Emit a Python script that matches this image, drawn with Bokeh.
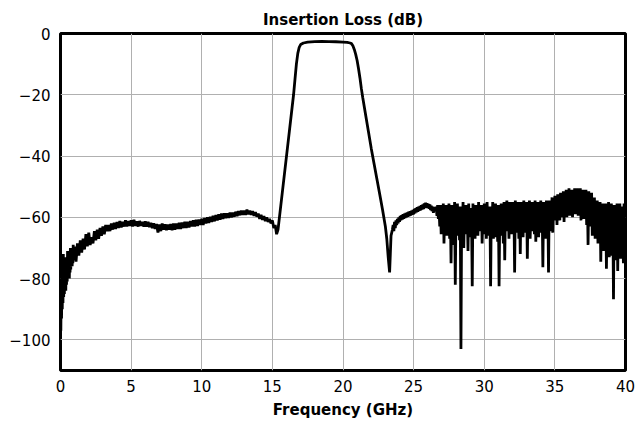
import numpy as np
from bokeh.plotting import figure
from bokeh.models import Range1d, ColumnDataSource, FixedTicker
from bokeh.embed import file_html
from bokeh.resources import INLINE

# ---- data ----
title_text = "Insertion Loss (dB)"
x_label = "Frequency (GHz)"
x_ticks = [0, 5, 10, 15, 20, 25, 30, 35, 40]
y_ticks = [0, -20, -40, -60, -80, -100]
y_tick_labels = ["0", "\u221220", "\u221240", "\u221260", "\u221280", "\u2212100"]

# 0 - 0.975 GHz, 0.025 GHz step
il_low = [
    -75, -97, -80, -93, -73, -90, -78, -88, -72, -86,
    -76, -85, -74, -83, -75, -84, -73, -82, -76, -81,
    -71, -80, -74, -79, -72, -80, -73, -78, -70, -77,
    -72, -76, -70, -76, -71, -75, -69, -74, -70, -73,
]
# 1.0 - 15.3 GHz, 0.1 GHz step
il_mid = [
    -69.5, -74.5, -68.5, -72.5, -67.5, -71.5, -67, -70.5, -65.5, -69.5,
    -65, -69, -66.5, -68.5, -64.5, -67.5, -64, -67, -63.5, -66,
    -63, -65.5, -62.5, -64.5, -62.5, -64.5, -62, -64, -61.8, -63.8,
    -61.5, -63.5, -61.2, -63.3, -61.5, -63, -61, -63, -61.2, -62.8,
    -61, -63, -60.8, -62.8, -61.3, -63, -61.2, -62.8, -61.5, -63,
    -61.3, -63, -61.5, -63.2, -61.8, -63.5, -62, -63.8, -62.2, -65,
    -62.3, -64.5, -62, -64, -62.3, -64.2, -62.4, -64, -62.2, -64.2,
    -62, -64, -62, -63.8, -61.8, -63.8, -61.7, -63.5, -61.5, -63.5,
    -61.5, -63.3, -61.2, -63, -61, -63, -60.8, -62.8, -60.7, -62.5,
    -60.5, -62.5, -60.2, -62, -60, -61.8, -59.8, -61.5, -59.5, -61.3,
    -59.3, -61, -59, -60.8, -58.8, -60.5, -58.7, -60.3, -58.7, -60.2,
    -58.5, -60, -58.5, -59.8, -58.2, -59.6, -58, -59.3, -57.8, -59.2,
    -57.8, -59.2, -57.5, -59, -57.8, -59.2, -58, -59.5, -58.3, -59.8,
    -58.8, -60.5, -59.2, -60.8, -59.6, -61.2, -60, -61.5, -60.5, -62,
    -61, -63.5, -62.5, -65.5,
]
# passband and skirts
f_pass = [15.4, 15.5, 15.6, 15.8, 16.0, 16.2, 16.4, 16.5, 16.6, 16.7,
          16.8, 16.9, 17.0, 17.2, 17.5, 18.0, 18.5, 19.0, 19.5, 20.0,
          20.3, 20.5, 20.6, 20.7, 20.8, 20.9, 21.0, 21.1, 21.2, 21.3,
          21.4, 21.6, 21.8, 22.0, 22.2, 22.4, 22.6, 22.8, 23.0, 23.1,
          23.2, 23.3, 23.35, 23.4, 23.5]
il_pass = [-64, -60, -56, -48, -40, -32, -24, -20, -15, -10,
           -6.5, -4.5, -3.6, -3.1, -2.8, -2.65, -2.6, -2.65, -2.7, -2.8,
           -2.9, -3.1, -3.3, -4.0, -5.2, -6.8, -8.8, -11.5, -14.5, -18,
           -21, -26.5, -32, -37.5, -42.5, -47.5, -52.5, -57.5, -63, -67,
           -73, -78, -72, -66, -64]
# 23.55 - 26.45 GHz, 0.05 GHz step
il_rec = [
    -62.5, -64.5, -61.5, -63.5, -61, -62.5, -60.5, -62, -60, -61.5,
    -59.5, -61, -59.3, -60.7, -59, -60.5, -58.8, -60.2, -58.6, -60,
    -58.4, -59.8, -58.2, -59.6, -58, -59.4, -57.8, -59.2, -57.6, -59,
    -57.3, -58.7, -57, -58.4, -56.7, -58.2, -56.5, -57.9, -56.3, -57.7,
    -56, -57.5, -55.8, -57.3, -55.5, -57, -55.2, -56.8, -55.4, -57,
    -55.6, -57.2, -55.8, -57.6, -56.2, -58, -56.5, -58.5, -57,
]
# 26.5 - 40 GHz, 0.05 GHz step
il_high = [
    -57, -58, -56.5, -59.5, -56, -60.5, -57.5, -63, -56, -65.5,
    -57.5, -63.5, -55.5, -68.5, -58, -62, -56, -66, -59, -64.5,
    -55.5, -67, -58.5, -75, -56, -63, -57, -69, -55, -82,
    -57.5, -66, -55.5, -62.5, -58, -67.5, -56.5, -103, -59, -64,
    -55, -70, -57.5, -65.5, -56, -63, -58.5, -71, -55.5, -65,
    -57, -66.5, -59.5, -82.5, -55.5, -63.5, -57, -67, -56, -62.5,
    -58, -66, -55, -63, -57.5, -64.5, -56, -68.5, -59, -65.5,
    -55.5, -63.5, -57, -67, -55, -62, -58, -66, -56.5, -82.5,
    -57.5, -64, -55, -67, -58.5, -63, -55.5, -66.5, -57, -68,
    -56, -82.5, -58, -63.5, -55.5, -66, -57.5, -68.5, -55, -74,
    -57, -64.5, -54.5, -62.5, -56.5, -67, -55, -63, -58, -65.5,
    -55, -63.5, -57, -78, -54.5, -65, -56.5, -62.5, -55, -67,
    -57.5, -72, -55, -63.5, -56.5, -66.5, -54.5, -62, -57, -65,
    -55, -73.5, -56.5, -63, -54.5, -67, -57.5, -64.5, -55, -62.5,
    -56.5, -65.5, -54.5, -68, -57, -63, -55, -66.5, -56, -63.5,
    -54.5, -65, -57, -76.3, -55, -63, -56.5, -67, -54.5, -62,
    -56, -78, -54.5, -64.5, -55.5, -62, -53.5, -65, -55, -61,
    -53, -60.5, -54.5, -62.5, -52.5, -59.5, -54, -61, -52, -60,
    -53.5, -59, -51.5, -61.5, -53, -58.5, -51, -60, -52.5, -58.5,
    -50.5, -59.5, -52.5, -57.5, -51, -60, -52, -58, -50.5, -59,
    -52, -57.5, -50.5, -59.5, -51.5, -58, -50.5, -61, -52, -58.5,
    -51, -60.5, -52.5, -59, -51, -62.5, -53, -69, -51.5, -61.5,
    -53.5, -63, -52, -66, -54.5, -62.5, -53.5, -67, -55.5, -64,
    -54.5, -68.5, -56.5, -65, -55, -74.5, -57, -67.5, -55.5, -71,
    -57, -69, -55.5, -76.8, -56.5, -70.5, -55, -73, -57.5, -68,
    -55.5, -72.5, -57, -86.7, -56, -70, -57.5, -74, -55.5, -77.5,
    -57, -69, -55.5, -73.5, -56.5, -68, -58, -75, -55.5, -70.5,
    -58,
]

# frequency sampling grids
f_low = np.linspace(0.0, 0.975, len(il_low))
f_mid = np.linspace(1.0, 15.3, len(il_mid))
f_rec = np.linspace(23.55, 26.45, len(il_rec))
f_high = np.linspace(26.5, 40.0, len(il_high))

freq = np.concatenate([f_low, f_mid, np.array(f_pass), f_rec, f_high])
loss = np.concatenate([il_low, il_mid, il_pass, il_rec, il_high])
source = ColumnDataSource(data=dict(freq=freq, loss=loss))

FONT = "DejaVu Sans"

p = figure(width=635, height=421, output_backend="svg", toolbar_location=None,
           x_range=Range1d(0, 40), y_range=Range1d(-110, 0),
           title=title_text,
           min_border_left=60, min_border_right=10,
           min_border_top=33, min_border_bottom=51)

p.background_fill_color = "white"
p.border_fill_color = "white"
p.outline_line_color = "black"
p.outline_line_width = 3
p.outline_line_alpha = 1.0

p.title.align = "center"
p.title.text_font = FONT
p.title.text_font_size = "15px"
p.title.text_font_style = "bold"
p.title.text_color = "black"
p.title.standoff = 9

p.xaxis.ticker = FixedTicker(ticks=x_ticks)
p.yaxis.ticker = FixedTicker(ticks=y_ticks)
p.yaxis.major_label_overrides = {t: s for t, s in zip(y_ticks, y_tick_labels)}
p.xaxis.axis_label = x_label

for ax in (p.xaxis[0], p.yaxis[0]):
    ax.axis_line_color = None
    ax.major_tick_line_color = None
    ax.minor_tick_line_color = None
    ax.major_tick_out = 0
    ax.major_tick_in = 0
    ax.minor_tick_out = 0
    ax.minor_tick_in = 0
    ax.major_label_text_font = FONT
    ax.major_label_text_font_size = "15px"
    ax.major_label_text_color = "black"
    ax.axis_label_text_font = FONT
    ax.axis_label_text_font_size = "15px"
    ax.axis_label_text_font_style = "bold"
    ax.axis_label_text_color = "black"

p.xaxis.major_label_standoff = 9
p.xaxis.axis_label_standoff = 6
p.yaxis.major_label_standoff = 10

p.xgrid.ticker = FixedTicker(ticks=x_ticks)
p.ygrid.ticker = FixedTicker(ticks=y_ticks)
p.grid.grid_line_color = "#b0b0b0"
p.grid.grid_line_width = 1
p.grid.grid_line_alpha = 1.0

p.line("freq", "loss", source=source, line_color="black", line_width=2.8)

open("out.html", "w").write(file_html(p, INLINE))
